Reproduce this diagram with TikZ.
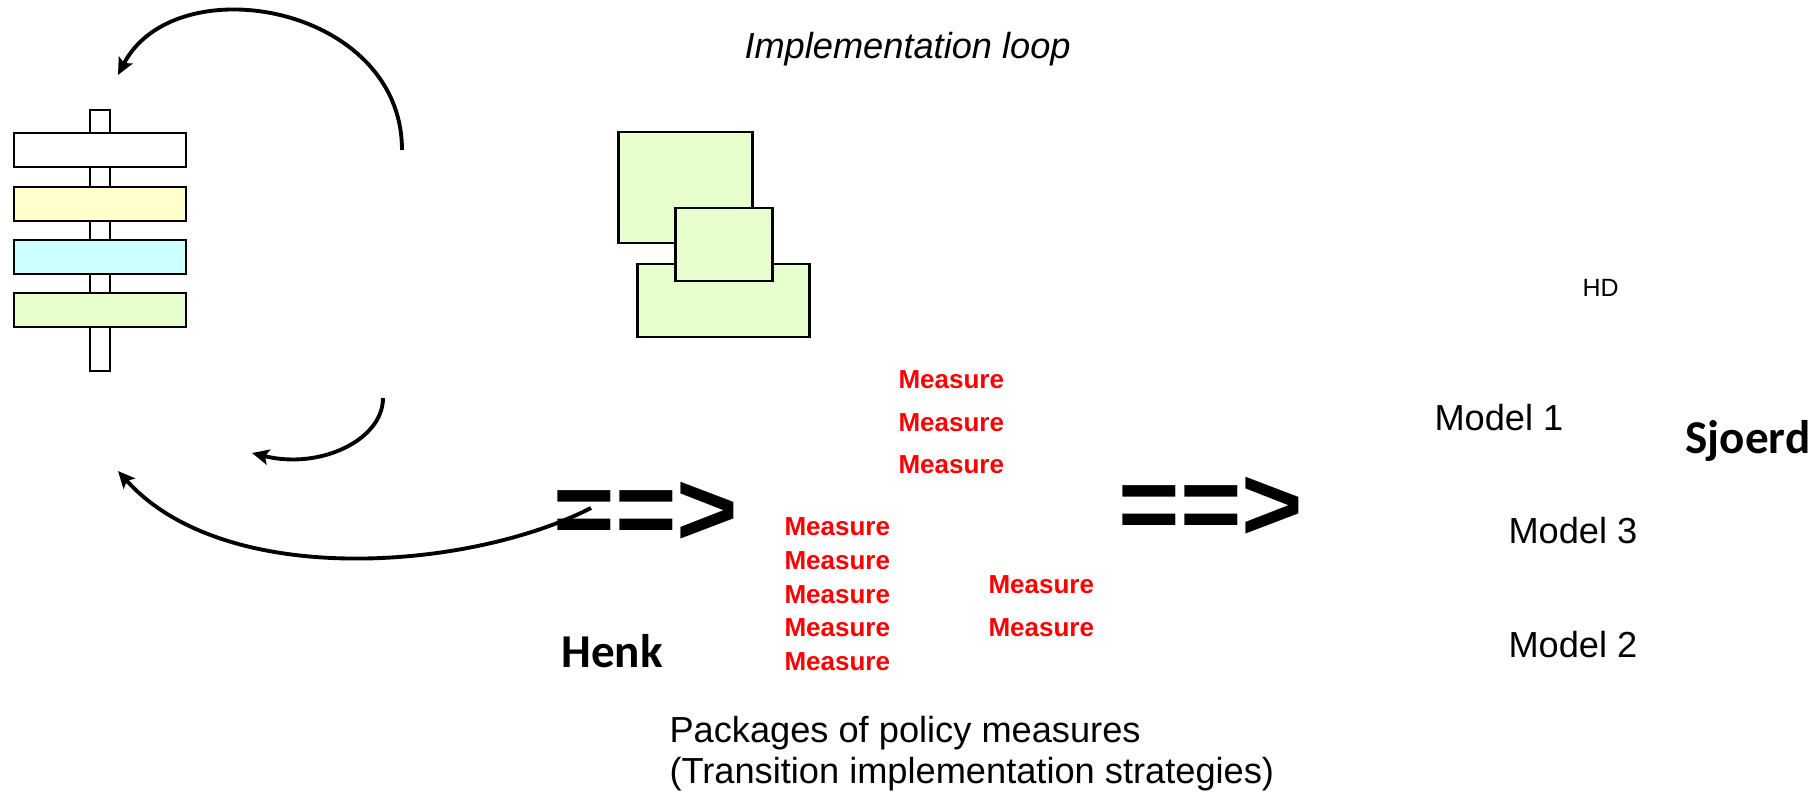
\documentclass[tikz,border=0pt]{standalone}
\usepackage{fontspec}
\setmainfont{Liberation Sans}
\newfontfamily\carlito{Carlito}
\usetikzlibrary{arrows.meta}
\definecolor{paleg}{HTML}{E6FFCC}
\definecolor{paley}{HTML}{FFFFCC}
\definecolor{palec}{HTML}{CCFFFF}

\begin{document}
\begin{tikzpicture}[x=0.01cm,y=-0.01cm,line width=0.85pt,
    meas/.style={anchor=base west,inner sep=0pt,text=red,font=\fontsize{7.4}{9}\selectfont\bfseries},
    lbl/.style={anchor=base west,inner sep=0pt,font=\fontsize{10.3}{12}\selectfont},
    who/.style={anchor=base west,inner sep=0pt,font=\fontsize{13.4}{15}\selectfont\carlito\bfseries},
    goes/.style={anchor=base west,inner sep=0pt,font=\fontsize{30}{36}\selectfont\bfseries},
    turn/.style={line width=1.1pt,-{Stealth[length=4.8pt,width=4.4pt,inset=1pt]}}]
    \useasboundingbox (0,0) rectangle (1818,794);
    \filldraw [fill=white] (90,110) rectangle (110,371);
    \filldraw [fill=white] (14,133) rectangle (186,167);
    \filldraw [fill=paley] (14,187) rectangle (186,221);
    \filldraw [fill=palec] (14,240) rectangle (186,274);
    \filldraw [fill=paleg] (14,293) rectangle (186,327);
    \filldraw [fill=paleg] (618,132) rectangle (752,243);
    \filldraw [fill=paleg] (637,264) rectangle (809,337);
    \filldraw [fill=paleg] (675,208) rectangle (772,281);
    \node [lbl] (title) at (743,59) {\itshape Implementation loop};
    \node [meas] (m1) at (897,388) {Measure};
    \node [meas] (m2) at (897,431) {Measure};
    \node [meas] (m3) at (897,473) {Measure};
    \node [meas] (m4) at (783,535) {Measure};
    \node [meas] (m5) at (783,569) {Measure};
    \node [meas] (m6) at (783,603) {Measure};
    \node [meas] (m7) at (783,636) {Measure};
    \node [meas] (m8) at (783,670) {Measure};
    \node [meas] (m9) at (987,593) {Measure};
    \node [meas] (m10) at (987,636) {Measure};
    \node [goes] (g1) at (552,545) {==>};
    \node [goes] (g2) at (1117,540) {==>};
    \node [who] (henk) at (560,667) {Henk};
    \node [who] (sjoerd) at (1684,453) {Sjoerd};
    \node [lbl,font=\fontsize{7.1}{8}\selectfont] (hd) at (1581,297) {HD};
    \node [lbl] (mod1) at (1433,430) {Model 1};
    \node [lbl] (mod3) at (1507,543) {Model 3};
    \node [lbl] (mod2) at (1507,657) {Model 2};
    \node [lbl] (pack1) at (668,742) {Packages of policy measures};
    \node [lbl] (pack2) at (668,783) {(Transition implementation strategies)};
    \coordinate (a1) at (402,150);
    \coordinate (a2) at (118,75);
    \coordinate (b1) at (383,398);
    \coordinate (b2) at (252,453);
    \coordinate (c1) at (591,508);
    \coordinate (c2) at (118,471);
    \draw [turn] (a1) .. controls (402,5) and (175,-35) .. (a2);
    \draw [turn] (b1) .. controls (383,440) and (320,470) .. (b2);
    \draw [turn] (c1) .. controls (470,570) and (225,590) .. (c2);
\end{tikzpicture}
\end{document}
